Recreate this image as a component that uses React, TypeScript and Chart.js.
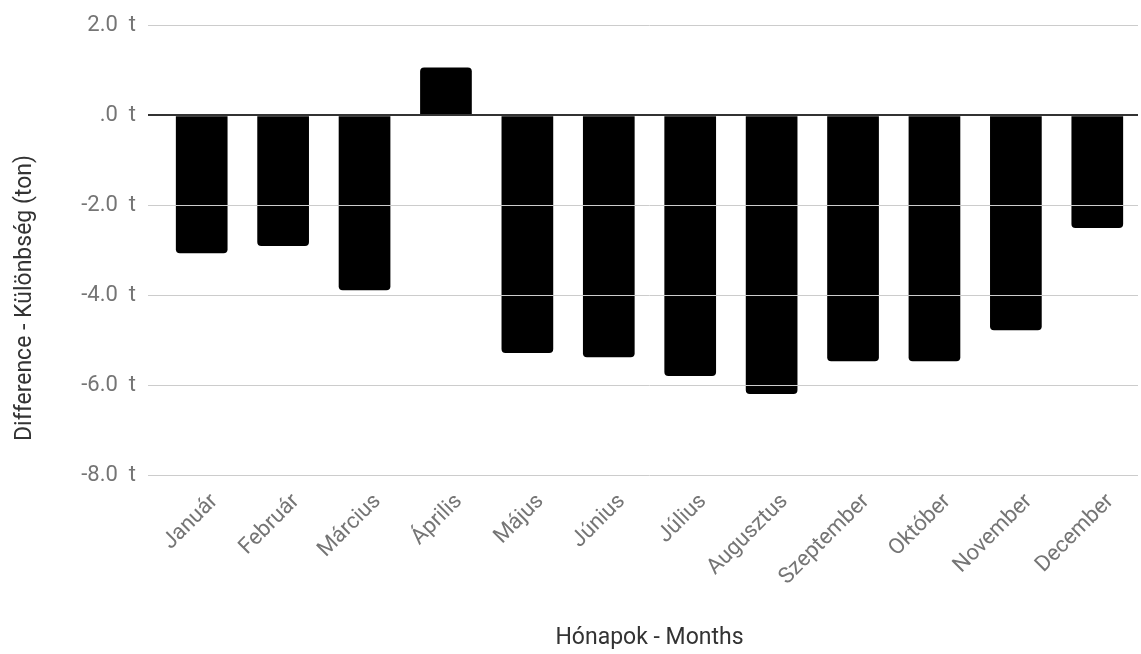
import React, { useEffect, useRef } from "react";
import { Chart, registerables } from "chart.js";

Chart.register(...registerables);

const months = [
  "Január", "Február", "Március", "Április", "Május", "Június",
  "Július", "Augusztus", "Szeptember", "Október", "November", "December",
];
const differences = [-3.07, -2.91, -3.89, 1.06, -5.29, -5.38, -5.8, -6.2, -5.47, -5.47, -4.78, -2.51];
const yMin = -8;
const yMax = 2;
const yStep = 2;
const xTitle = "Hónapok - Months";
const yTitle = "Difference - Különbség (ton)";

const FONT = "Roboto, 'Noto Sans', sans-serif";

export default function App() {
  const ref = useRef<HTMLCanvasElement | null>(null);
  useEffect(() => {
    document.body.style.margin = "0";
    const labelPlugin = {
      id: "axisLabels",
      afterDraw(chart: any) {
        const ctx = chart.ctx;
        const area = chart.chartArea;
        const xs = chart.scales.x;
        ctx.save();
        ctx.fillStyle = "#757575";
        ctx.font = `22px ${FONT}`;
        ctx.textAlign = "right";
        ctx.textBaseline = "middle";
        months.forEach((m, i) => {
          const px = xs.getPixelForTick(i);
          ctx.save();
          ctx.translate(px + 13, area.bottom + 23);
          ctx.rotate(-Math.PI / 4);
          ctx.fillText(m, 0, 0);
          ctx.restore();
        });
        ctx.fillStyle = "#333333";
        ctx.font = `23px ${FONT}`;
        ctx.textAlign = "center";
        ctx.fillText(xTitle, (area.left + area.right) / 2, 638);
        ctx.translate(25, 298);
        ctx.rotate(-Math.PI / 2);
        ctx.fillText(yTitle, 0, 0);
        ctx.restore();
      },
    };
    const chart = new Chart(ref.current!, {
      type: "bar",
      data: {
        labels: months,
        datasets: [
          {
            data: differences,
            backgroundColor: "#000000",
            borderRadius: 4,
            barPercentage: 0.635,
            categoryPercentage: 1,
          },
        ],
      },
      options: {
        animation: false,
        responsive: false,
        devicePixelRatio: 1,
        layout: { padding: { top: 25, right: 3, left: 0, bottom: 0 } },
        plugins: { legend: { display: false }, tooltip: { enabled: false } },
        scales: {
          x: {
            grid: { display: false, drawTicks: false },
            border: { display: false },
            ticks: { display: false, autoSkip: false },
            afterFit(scale: any) {
              scale.height = 179;
            },
          },
          y: {
            min: yMin,
            max: yMax,
            border: { display: false },
            grid: {
              color: (c: any) => (c.tick && c.tick.value === 0 ? "#333333" : "#cccccc"),
              tickColor: (c: any) => (c.tick && c.tick.value === 0 ? "#333333" : "#cccccc"),
              lineWidth: (c: any) => (c.tick && c.tick.value === 0 ? 2 : 1),
              tickLength: 13,
              z: 1,
            },
            ticks: {
              stepSize: yStep,
              color: "#757575",
              font: { family: FONT, size: 22 },
              padding: 12,
              callback: (v: any) => (v === 0 ? ".0  t" : Number(v).toFixed(1) + "  t"),
            },
            afterFit(scale: any) {
              scale.width = 161;
            },
          },
        },
      },
      plugins: [labelPlugin],
    });
    return () => chart.destroy();
  }, []);
  return <canvas ref={ref} width={1141} height={654} style={{ display: "block" }} />;
}
